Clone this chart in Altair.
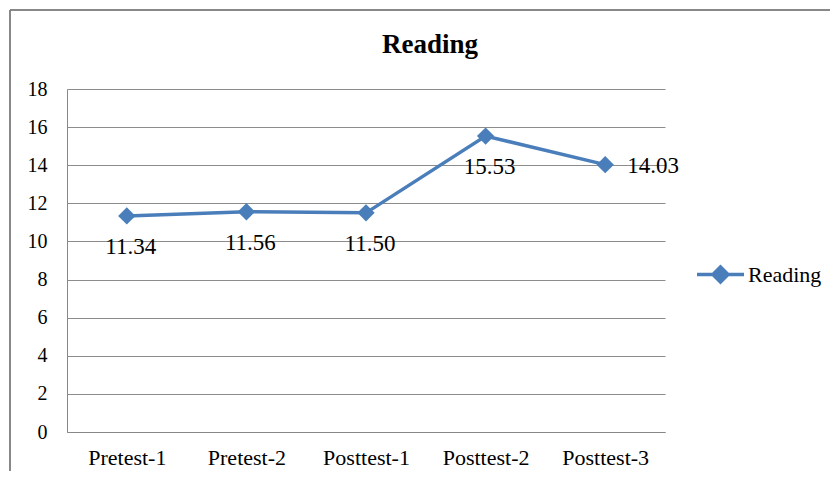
import altair as alt
import pandas as pd

categories = ["Pretest-1", "Pretest-2", "Posttest-1", "Posttest-2", "Posttest-3"]
values = [11.34, 11.56, 11.50, 15.53, 14.03]
labels = ["11.34", "11.56", "11.50", "15.53", "14.03"]
series = ["Reading"] * 5
y_ticks = [0, 2, 4, 6, 8, 10, 12, 14, 16, 18]
title_text = "Reading"

df = pd.DataFrame({"cat": categories, "val": values, "lab": labels, "series": series})
title_df = pd.DataFrame({"t": [title_text]})

BLUE = "#4A7EBB"
FONT = "Times New Roman"

x_enc = alt.X("cat:N", sort=categories, title=None,
              scale=alt.Scale(type="point", padding=0.5),
              axis=alt.Axis(labelAngle=0, labelFont=FONT, labelFontSize=22, labelColor="#000",
                            ticks=False, tickSize=0, labelPadding=25, labelBaseline="middle",
                            domainColor="#888", domainWidth=1, grid=False))
y_enc = alt.Y("val:Q", title=None, scale=alt.Scale(domain=[0, 18], nice=False, zero=True),
              axis=alt.Axis(values=y_ticks, tickCount=10, labelFont=FONT, labelFontSize=20,
                            labelColor="#000", labelOverlap=False, ticks=False, tickSize=0,
                            labelPadding=20, gridColor="#8c8c8c", gridWidth=1,
                            domainColor="#888", domainWidth=1))

legend_path = "M-1,0L1,0M-0.32,0L0,-0.32L0.32,0L0,0.32Z"

base = alt.Chart(df)

line = base.mark_line(strokeWidth=3.5).encode(
    x=x_enc, y=y_enc,
    color=alt.Color("series:N", scale=alt.Scale(range=[BLUE]), title=None,
                    legend=alt.Legend(orient="none", legendX=628, legendY=160,
                                      labelFont=FONT, labelFontSize=22, labelColor="#000",
                                      labelOffset=2, padding=0,
                                      symbolType=legend_path, symbolSize=2209,
                                      symbolStrokeWidth=3.5, symbolFillColor=BLUE,
                                      symbolStrokeColor=BLUE, symbolOpacity=1))
)

points = base.mark_point(shape="diamond", filled=True, size=300, opacity=1, color=BLUE).encode(
    x=x_enc, y=y_enc
)

below = base.transform_filter(alt.datum.cat != "Posttest-3").mark_text(
    font=FONT, fontSize=23, color="#000", dy=31, dx=4, baseline="middle"
).encode(x=x_enc, y=y_enc, text="lab:N")

right = base.transform_filter(alt.datum.cat == "Posttest-3").mark_text(
    font=FONT, fontSize=23, color="#000", dx=22, dy=1, align="left", baseline="middle"
).encode(x=x_enc, y=y_enc, text="lab:N")

title = alt.Chart(title_df).mark_text(
    font=FONT, fontSize=27, fontWeight="bold", color="#000", align="center", baseline="alphabetic"
).encode(x=alt.value(363), y=alt.value(-36), text="t:N")

border_left = alt.Chart(title_df).mark_rule(color="#888", strokeWidth=2).encode(
    x=alt.value(-57), y=alt.value(-79), y2=alt.value(400))
border_top = alt.Chart(title_df).mark_rule(color="#888", strokeWidth=2).encode(
    x=alt.value(-57), x2=alt.value(800), y=alt.value(-79))

chart = alt.layer(border_left, border_top, title, line, points, below, right).properties(
    width=598, height=343,
    autosize=alt.AutoSizeParams(type="none"),
    padding={"left": 59, "top": 81, "right": 165, "bottom": 39},
    background="white",
).configure_view(stroke=None)

chart.save("out.html", embed_options={"renderer": "svg", "actions": False})
